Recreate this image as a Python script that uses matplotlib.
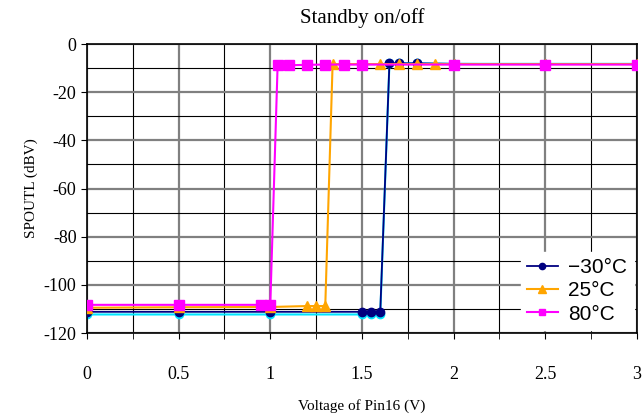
import numpy as np
import matplotlib
matplotlib.use("Agg")
from matplotlib import pyplot as plt
from matplotlib.ticker import MultipleLocator

# readings from the picture
x_m30 = [0, 0.5, 1.0, 1.5, 1.55, 1.6, 1.65, 1.7, 1.8, 2.0, 2.5, 3.0]
y_m30 = [-111.2, -111.2, -111.2, -111.2, -111.2, -111.2, -8.0, -8.0, -8.0, -8.2, -8.3, -8.3]
x_cy = [0, 0.5, 1.0, 1.5, 1.55, 1.6, 1.65, 1.7, 1.8, 2.0, 2.5, 3.0]
y_cy = [-112.3, -112.3, -112.3, -112.3, -112.3, -112.3, -8.0, -8.0, -8.0, -8.2, -8.2, -8.2]
x_25 = [0, 0.5, 1.0, 1.2, 1.25, 1.3, 1.34, 1.6, 1.7, 1.8, 1.9, 2.0, 2.5, 3.0]
y_25 = [-109.5, -109.3, -109.2, -108.8, -108.8, -108.8, -8.3, -8.3, -8.3, -8.3, -8.3, -8.3, -8.3, -8.3]
x_80 = [0, 0.5, 0.95, 1.0, 1.04, 1.1, 1.2, 1.3, 1.4, 1.5, 2.0, 2.5, 3.0]
y_80 = [-108.3, -108.3, -108.3, -108.3, -8.8, -8.8, -8.6, -8.5, -8.5, -8.5, -8.5, -8.5, -8.5]
labels = ['\u221230\u00b0C', '25\u00b0C', '80\u00b0C']
xticks = [0, 0.5, 1, 1.5, 2, 2.5, 3]
xticklabels = ['0', '0.5', '1', '1.5', '2', '2.5', '3']
yticks = [0, -20, -40, -60, -80, -100, -120]

plt.rcParams['font.family'] = ['Liberation Serif', 'DejaVu Serif']

fig = plt.figure(figsize=(6.42, 4.16), dpi=100)
ax = fig.add_axes([0.1355, 0.1995, 0.8565, 0.6945])

ax.plot(x_cy, y_cy, color='#00e5ff', lw=1.5, marker='o', ms=6, zorder=2)
ax.plot(x_m30, y_m30, color='#000080', lw=1.3, marker='o', ms=6, label=labels[0], zorder=3)
ax.plot(x_25, y_25, color='#ffa500', lw=1.5, marker='^', ms=7, label=labels[1], zorder=4)
ax.plot(x_80, y_80, color='#ff00ff', lw=1.5, marker='s', ms=6.5, label=labels[2], zorder=5)

ax.set_xlim(0, 3)
ax.set_ylim(-120, 0)
ax.set_xticks(xticks)
ax.set_xticklabels(xticklabels)
ax.xaxis.set_minor_locator(MultipleLocator(0.25))
ax.set_yticks(yticks)
ax.set_yticklabels([str(v) for v in yticks])
ax.yaxis.set_minor_locator(MultipleLocator(10))

ax.grid(which='major', color='#808080', lw=1.6, zorder=0)
ax.grid(which='minor', color='black', lw=0.8, zorder=0)
ax.set_axisbelow(True)
ax.tick_params(which='both', direction='out', labelsize=13, length=4, color='black')
ax.tick_params(axis='x', pad=20)
ax.tick_params(axis='y', which='minor', length=0)
for s in ax.spines.values():
    s.set_color('black')
    s.set_linewidth(1.2)

ax.set_title('Standby on/off', fontsize=15, pad=15)
ax.set_xlabel('Voltage of Pin16 (V)', fontsize=11, labelpad=11)
ax.set_ylabel('SPOUTL (dBV)', fontsize=11, labelpad=4)

leg = ax.legend(loc='lower right', prop={'size': 15, 'family': ['Liberation Sans', 'DejaVu Sans']},
                frameon=True, fancybox=False, borderaxespad=0.15, handlelength=1.5,
                labelspacing=0.2, handletextpad=0.5, borderpad=0.3, markerscale=0.75)
leg.get_frame().set_edgecolor('white')
leg.get_frame().set_alpha(1)
leg.set_zorder(10)

fig.savefig('out.png', dpi=100)
